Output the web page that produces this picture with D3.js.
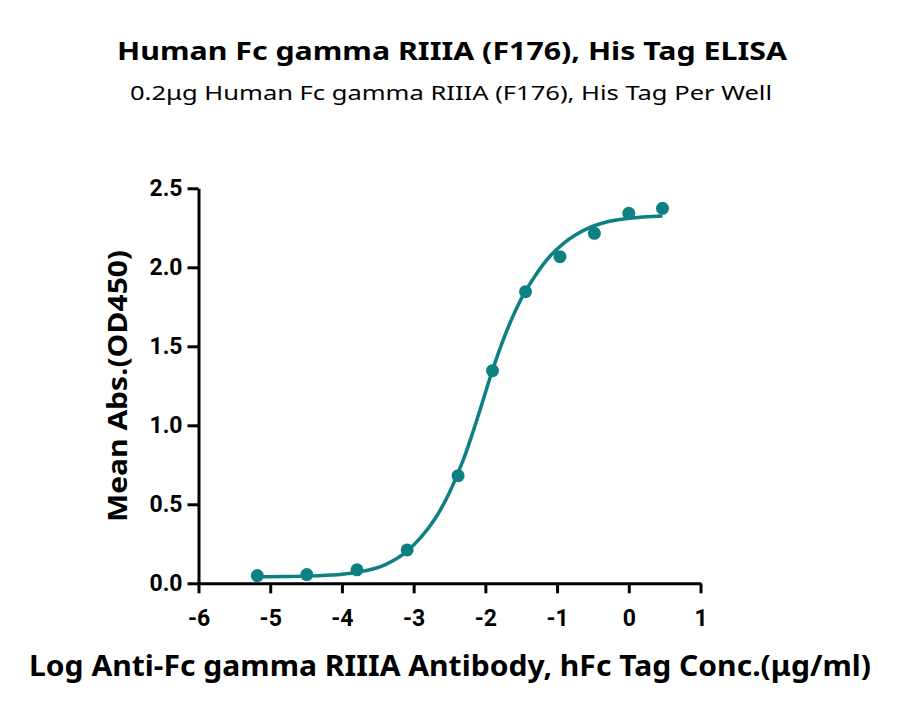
<!DOCTYPE html>
<html>
<head>
<meta charset="utf-8">
<script src="https://cdn.jsdelivr.net/npm/d3@7"></script>
<style>
  body { margin: 0; background: #fff; }
  svg { display: block; }
</style>
</head>
<body>
<svg id="chart" width="900" height="714"></svg>
<script>
// measured points (log conc., mean OD450)
const logConc = [-5.18, -4.49, -3.79, -3.09, -2.38, -1.9, -1.44, -0.96, -0.48, 0.0, 0.47];
const meanAbs = [0.049, 0.055, 0.085, 0.211, 0.681, 1.346, 1.846, 2.067, 2.215, 2.342, 2.373];

// fitted curve
const curveX = [-5.18, -4.8, -4.4, -4.0, -3.7, -3.4, -3.1, -2.9, -2.7, -2.5, -2.3, -2.1, -1.9, -1.7, -1.5, -1.3, -1.1, -0.9, -0.6, -0.3, 0.0, 0.47];
const curveY = [0.041, 0.043, 0.047, 0.057, 0.077, 0.117, 0.2, 0.29, 0.41, 0.575, 0.79, 1.06, 1.35, 1.6, 1.8, 1.95, 2.07, 2.155, 2.24, 2.288, 2.31, 2.325];

const xTicks = [-6, -5, -4, -3, -2, -1, 0, 1];
const yTicks = [0, 0.5, 1.0, 1.5, 2.0, 2.5];

const teal = '#0e8083';
const svg = d3.select('#chart');

const x = d3.scaleLinear().domain([-6, 1]).range([198.5, 700.5]);
const y = d3.scaleLinear().domain([0, 2.5]).range([583.3, 188.3]);

// titles
svg.append('text')
  .attr('x', 452).attr('y', 60)
  .attr('text-anchor', 'middle')
  .attr('textLength', 670).attr('lengthAdjust', 'spacingAndGlyphs')
  .style('font-family', "'Noto Sans', sans-serif")
  .style('font-weight', 700).style('font-size', '25px')
  .text('Human Fc gamma RIIIA (F176), His Tag ELISA');

svg.append('text')
  .attr('x', 451).attr('y', 100)
  .attr('text-anchor', 'middle')
  .attr('textLength', 642).attr('lengthAdjust', 'spacingAndGlyphs')
  .style('font-family', "'Noto Sans', sans-serif")
  .style('font-size', '20px')
  .text('0.2μg Human Fc gamma RIIIA (F176), His Tag Per Well');

// axes
const xAxis = svg.append('g')
  .attr('transform', `translate(0, ${y(0)})`)
  .call(d3.axisBottom(x).tickValues(xTicks).tickSize(10).tickSizeOuter(0).tickPadding(16).tickFormat(d3.format('d')));

const yAxis = svg.append('g')
  .attr('transform', `translate(${x(-6)}, 0)`)
  .call(d3.axisLeft(y).tickValues(yTicks).tickSize(11).tickSizeOuter(0).tickPadding(5).tickFormat(d3.format('.1f')));

[xAxis, yAxis].forEach(g => {
  g.select('.domain').attr('stroke', '#000').attr('stroke-width', 3);
  g.selectAll('.tick line').attr('stroke', '#000').attr('stroke-width', 3);
  g.selectAll('.tick text')
    .attr('fill', '#000')
    .style('font-family', "'Roboto', sans-serif")
    .style('font-weight', 700)
    .style('font-size', '23px');
});
xAxis.selectAll('.tick text').text(d => d < 0 ? '-' + Math.abs(d) : d);

// axis labels
svg.append('text')
  .attr('transform', `translate(127, ${386}) rotate(-90)`)
  .attr('text-anchor', 'middle')
  .attr('textLength', 272).attr('lengthAdjust', 'spacingAndGlyphs')
  .style('font-family', "'Open Sans', sans-serif")
  .style('font-weight', 700).style('font-size', '26px')
  .text('Mean Abs.(OD450)');

svg.append('text')
  .attr('x', 450).attr('y', 676)
  .attr('text-anchor', 'middle')
  .attr('textLength', 842).attr('lengthAdjust', 'spacingAndGlyphs')
  .style('font-family', "'Noto Sans', sans-serif")
  .style('font-weight', 700).style('font-size', '28px')
  .text('Log Anti-Fc gamma RIIIA Antibody, hFc Tag Conc.(μg/ml)');

// fitted curve
const line = d3.line()
  .x(d => x(d[0]))
  .y(d => y(d[1]))
  .curve(d3.curveMonotoneX);

svg.append('path')
  .datum(d3.zip(curveX, curveY))
  .attr('d', line)
  .attr('fill', 'none')
  .attr('stroke', teal)
  .attr('stroke-width', 3.5);

// points
svg.append('g').selectAll('circle')
  .data(d3.zip(logConc, meanAbs))
  .enter()
  .append('circle')
  .attr('cx', d => x(d[0]))
  .attr('cy', d => y(d[1]))
  .attr('r', 6.5)
  .attr('fill', teal);
</script>
</body>
</html>
